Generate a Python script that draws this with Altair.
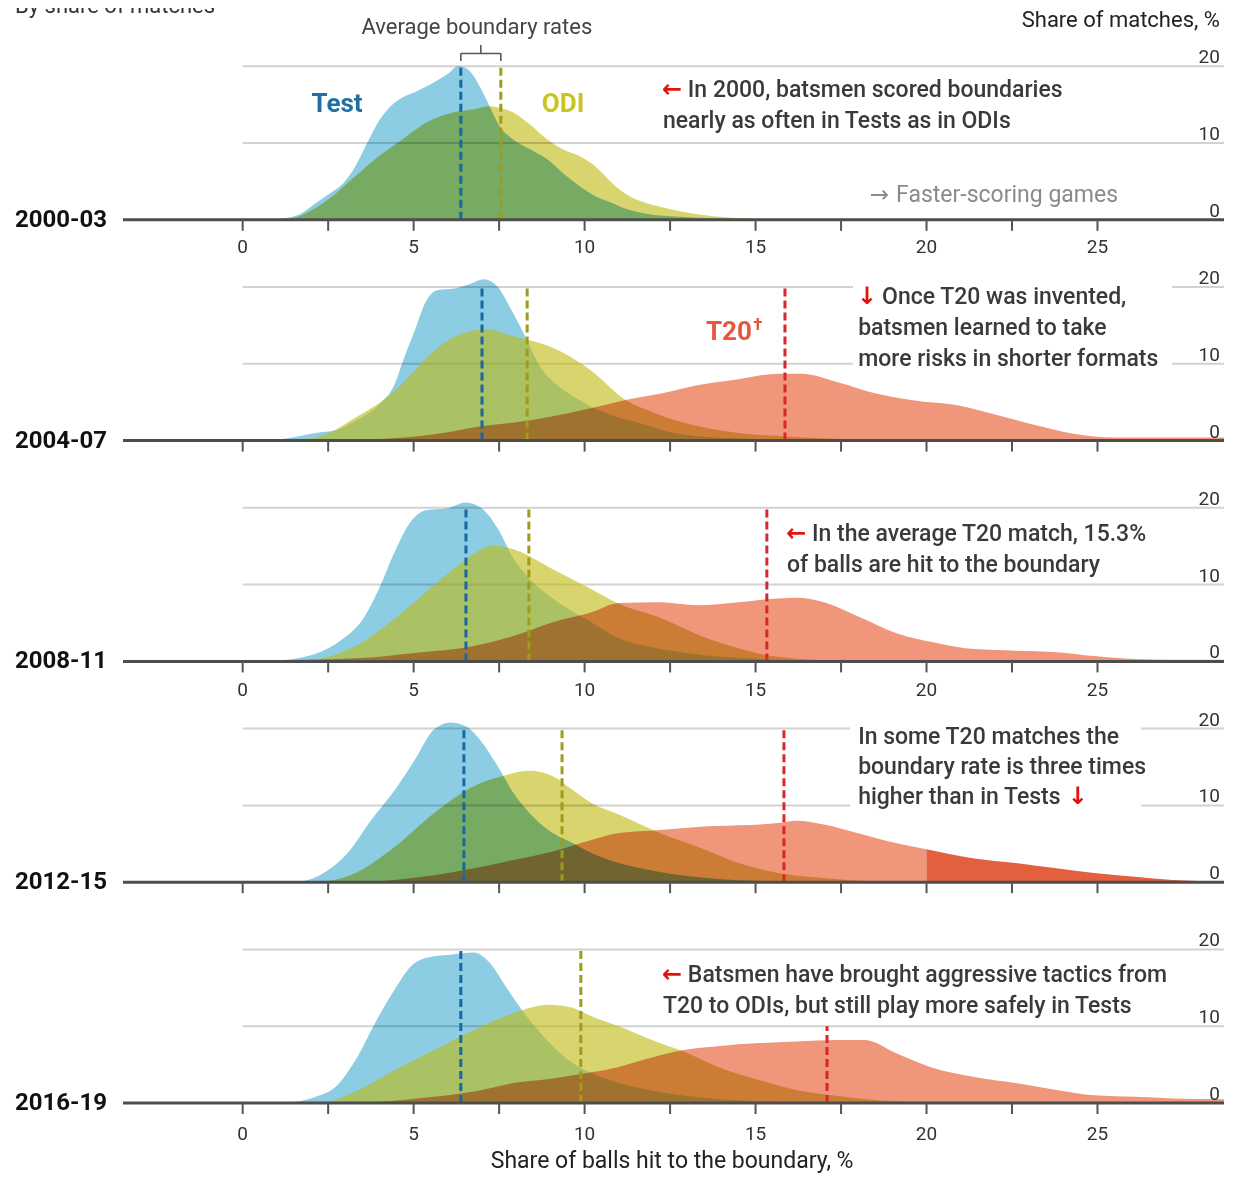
import altair as alt
import pandas as pd

FONT = "Roboto"
ARROW_FONT = "DejaVu Sans"

PERIODS = ["2000-03", "2004-07", "2008-11", "2012-15", "2016-19"]

# Share of matches (%) against share of balls hit to the boundary (%)
TEST = {
    "2000-03": [(0.5, 0), (1.2, 0.2), (1.7, 0.8), (2.14, 2.2), (2.6, 3.6), (2.95, 4.8), (3.3, 7.0), (3.64, 10.0),
                (4.0, 13.0), (4.33, 14.8), (4.7, 16.0), (5.03, 16.6), (5.6, 17.9), (6.0, 19.0), (6.3, 20.0),
                (6.55, 19.7), (6.76, 18.7), (7.0, 16.8), (7.22, 14.8), (7.51, 12.2), (7.9, 10.5), (8.4, 9.2),
                (8.9, 7.9), (9.36, 6.1), (9.85, 4.4), (10.3, 3.1), (10.8, 2.2), (11.3, 1.3), (11.8, 0.8),
                (12.8, 0.4), (13.8, 0.2), (15.0, 0.05), (16.0, 0)],
    "2004-07": [(0.8, 0), (1.45, 0.4), (2.14, 1.0), (2.72, 1.35), (3.3, 2.6), (3.99, 4.7), (4.45, 7.4),
                (4.69, 10.4), (5.03, 14.3), (5.38, 18.3), (5.72, 19.6), (6.18, 19.8), (6.65, 20.4), (7.05, 21.0),
                (7.46, 20.0), (7.92, 16.5), (8.27, 13.5), (8.7, 9.6), (9.2, 7.2), (9.65, 5.8), (10.2, 4.4),
                (11.0, 3.0), (11.6, 2.3), (12.6, 1.0), (13.5, 0.5), (14.5, 0.3), (16.0, 0.1), (17.5, 0)],
    "2008-11": [(0.5, 0), (0.98, 0.1), (2.14, 1.0), (2.95, 3.0), (3.53, 5.6), (3.99, 9.5), (4.45, 14.3),
                (4.92, 18.2), (5.38, 19.7), (5.95, 19.9), (6.53, 20.7), (7.0, 19.9), (7.46, 17.3), (7.92, 13.4),
                (8.38, 10.8), (9.07, 8.2), (9.65, 6.5), (10.2, 5.1), (11.0, 3.0), (12.0, 1.8), (13.0, 1.1),
                (14.0, 0.6), (15.0, 0.35), (16.0, 0.15), (17.5, 0)],
    "2012-15": [(1.0, 0), (1.68, 0.1), (2.37, 1.2), (3.07, 3.8), (3.76, 8.1), (4.45, 12.0), (5.03, 15.9),
                (5.6, 19.9), (6.07, 20.8), (6.53, 20.3), (7.0, 18.2), (7.46, 15.1), (7.92, 11.6), (8.5, 8.5),
                (9.07, 6.4), (9.65, 5.1), (10.2, 3.8), (11.0, 2.5), (12.0, 1.5), (13.0, 0.8), (14.0, 0.4),
                (15.0, 0.2), (16.5, 0)],
    "2016-19": [(0.8, 0), (1.45, 0.1), (2.14, 0.8), (2.72, 2.1), (3.3, 5.6), (3.87, 10.4), (4.45, 14.8),
                (4.92, 17.8), (5.38, 18.9), (6.07, 19.3), (6.76, 19.6), (7.22, 18.3), (7.69, 15.2), (8.15, 12.2),
                (8.61, 9.6), (9.07, 7.4), (9.65, 5.2), (10.2, 3.9), (11.0, 2.6), (12.0, 1.6), (13.0, 0.9),
                (14.0, 0.5), (15.0, 0.25), (16.5, 0.05), (18.0, 0)],
}

ODI = {
    "2000-03": [(0.8, 0), (1.45, 0.2), (2.0, 1.2), (2.49, 2.6), (3.3, 5.7), (3.99, 8.3), (4.68, 10.5),
                (5.38, 12.7), (6.18, 14.0), (6.76, 14.4), (7.2, 14.8), (7.51, 14.6), (7.9, 14.0), (8.4, 12.4),
                (8.9, 10.5), (9.36, 9.2), (9.85, 8.3), (10.3, 7.0), (10.8, 4.8), (11.3, 3.1), (11.8, 2.2),
                (12.3, 1.6), (12.8, 1.1), (13.7, 0.5), (14.7, 0.2), (15.7, 0.1), (17.0, 0)],
    "2004-07": [(1.0, 0), (2.14, 0.4), (3.3, 3.0), (4.45, 6.5), (5.03, 9.1), (5.6, 11.7), (6.18, 13.5),
                (7.1, 14.5), (7.92, 13.6), (9.07, 12.1), (10.17, 9.2), (11.2, 5.3), (12.0, 3.7), (12.6, 2.7),
                (13.5, 1.7), (14.5, 1.0), (16.0, 0.5), (17.5, 0.2), (19.0, 0.05), (20.0, 0)],
    "2008-11": [(0.8, 0), (2.14, 0.3), (3.3, 2.0), (4.45, 5.6), (5.6, 9.9), (6.41, 12.9), (7.34, 15.1),
                (7.92, 14.6), (9.07, 12.0), (10.2, 9.4), (11.0, 7.5), (12.2, 5.7), (13.3, 3.5), (14.5, 1.7),
                (15.1, 1.0), (16.2, 0.35), (17.5, 0.1), (19.0, 0)],
    "2012-15": [(1.5, 0), (2.37, 0.1), (3.3, 1.2), (4.45, 4.6), (5.6, 9.0), (6.76, 12.5), (7.57, 13.8),
                (8.38, 14.5), (9.07, 13.8), (9.65, 12.0), (10.2, 10.3), (11.0, 8.8), (12.2, 6.4), (13.3, 4.6),
                (14.5, 2.5), (15.65, 1.2), (16.8, 0.6), (18.0, 0.2), (19.5, 0)],
    "2016-19": [(1.5, 0), (2.37, 0.1), (3.3, 1.5), (4.45, 4.3), (5.6, 6.9), (6.76, 9.5), (7.92, 11.7),
                (8.95, 12.8), (9.65, 12.4), (10.2, 11.3), (11.0, 10.0), (12.2, 7.8), (12.9, 6.7), (13.9, 4.7),
                (15.1, 3.0), (16.2, 1.7), (17.4, 0.9), (18.5, 0.4), (20.0, 0.1), (21.0, 0)],
}

T20 = {
    "2004-07": [(2.5, 0), (4.0, 0.2), (5.0, 0.5), (6.0, 1.1), (7.0, 1.9), (8.0, 2.4), (9.0, 3.1), (10.17, 4.2),
                (11.2, 5.3), (12.2, 6.1), (13.3, 7.2), (14.5, 8.0), (15.65, 8.7), (16.35, 8.7), (17.4, 7.6),
                (18.55, 6.1), (19.7, 5.2), (20.9, 4.6), (22.0, 3.4), (23.2, 2.0), (24.3, 0.9), (25.5, 0.4),
                (27.2, 0.4), (28.7, 0.4)],
    "2008-11": [(0.0, 0.1), (3.3, 0.4), (5.03, 1.1), (6.76, 2.0), (7.92, 3.3), (9.07, 5.1), (10.2, 6.4),
                (11.0, 7.6), (12.2, 7.7), (13.3, 7.3), (14.5, 7.7), (15.65, 8.2), (16.2, 8.3), (17.0, 7.7),
                (17.97, 5.9), (19.1, 3.7), (20.3, 2.4), (21.4, 1.6), (22.6, 1.4), (23.8, 1.2), (24.9, 0.7),
                (26.1, 0.3), (27.2, 0.2), (28.7, 0.2)],
    "2012-15": [(3.0, 0), (4.45, 0.3), (5.6, 0.9), (6.76, 1.8), (7.92, 2.9), (9.07, 4.0), (10.2, 5.5),
                (11.0, 6.4), (12.2, 6.8), (13.3, 7.2), (14.5, 7.4), (15.65, 7.7), (16.2, 8.0), (17.0, 7.5),
                (17.97, 6.4), (19.1, 5.1), (20.0, 4.3), (21.4, 3.1), (22.6, 2.5), (23.8, 1.8), (24.9, 1.2),
                (26.1, 0.7), (27.2, 0.3), (28.3, 0.1), (28.7, 0)],
    "2016-19": [(3.0, 0), (4.45, 0.3), (5.6, 0.8), (6.76, 1.5), (7.92, 2.6), (9.07, 3.2), (10.2, 4.0),
                (11.0, 4.7), (11.7, 5.6), (12.9, 6.9), (13.9, 7.4), (15.1, 7.8), (16.2, 8.0), (17.4, 8.2),
                (18.2, 8.2), (19.1, 6.5), (20.1, 4.7), (21.4, 3.4), (22.6, 2.6), (23.8, 1.7), (24.9, 1.0),
                (26.1, 0.8), (27.2, 0.6), (28.7, 0.5)],
}

MEAN_TEST = [6.38, 7.00, 6.53, 6.47, 6.38]
MEAN_ODI = [7.55, 8.32, 8.37, 9.34, 9.89]
MEAN_T20 = [None, 15.86, 15.33, 15.83, 17.09]

X_TICKS = [0, 2.5, 5, 7.5, 10, 12.5, 15, 17.5, 20, 22.5, 25]
X_LABELS = [0, 5, 10, 15, 20, 25]
GRID = [10, 20]
Y_LABELS = [0, 10, 20]
X_TITLE = "Share of balls hit to the boundary, %"

# ---- layout / style ----
U = 7.68                     # px per percentage point (vertical)
ROW_GAP = 28.75              # vertical distance between panel baselines, in units
OFF = {p: (4 - i) * ROW_GAP for i, p in enumerate(PERIODS)}
X_MIN, X_MAX = -3.5, 28.7
Y_MAX = 138.41
HIGHLIGHT_PERIOD, HIGHLIGHT_FROM = "2012-15", 20
LABEL_GAP_PX = {"2000-03": 27.5, "2008-11": 29.0, "2016-19": 31.0}   # tick-label distance below baseline

C_TEST = "#8dcde3"
C_ODI_MULT = "#d8d56f"
C_ODI_NORM = "#beb90f"
C_T20 = "#f0967a"
C_T20_HI = "#e2603d"
C_TEXT = "#3a3a3a"
C_RED = "#e3120b"

XS = alt.Scale(domain=[X_MIN, X_MAX], nice=False, zero=False)
YS = alt.Scale(domain=[0, Y_MAX], nice=False, zero=False)


def X(f="x"):
    return alt.X(f"{f}:Q", scale=XS, axis=None)


def Y(f="y"):
    return alt.Y(f"{f}:Q", scale=YS, axis=None)


# ---- area data ----
area_rows = []
for p in PERIODS:
    o = OFF[p]
    for x, v in TEST.get(p, []):
        area_rows.append(dict(fmt="Test", key=p, x=x, y=o + v, y0=o, col=C_TEST, mode="mult"))
    for x, v in ODI.get(p, []):
        mode = "mult" if p in ("2000-03", "2012-15") else "norm"
        area_rows.append(dict(fmt="ODI", key=p, x=x, y=o + v, y0=o,
                              col=C_ODI_MULT if mode == "mult" else C_ODI_NORM, mode=mode))
    for x, v in T20.get(p, []):
        if p == HIGHLIGHT_PERIOD:
            if x <= HIGHLIGHT_FROM:
                area_rows.append(dict(fmt="T20", key=p + "a", x=x, y=o + v, y0=o, col=C_T20, mode="mult"))
            if x >= HIGHLIGHT_FROM:
                area_rows.append(dict(fmt="T20", key=p + "b", x=x, y=o + v, y0=o, col=C_T20_HI, mode="mult"))
        else:
            area_rows.append(dict(fmt="T20", key=p, x=x, y=o + v, y0=o, col=C_T20, mode="mult"))
areas = pd.DataFrame(area_rows)


def area_layer(df, **kw):
    return alt.Chart(df).mark_area(interpolate="monotone", **kw).encode(
        x=X(), y=Y(), y2=alt.Y2("y0:Q"),
        color=alt.Color("col:N", scale=None), detail="key:N")


# ---- grid ----
grid = pd.DataFrame([dict(x=0, x2=X_MAX, y=OFF[p] + g) for p in PERIODS for g in GRID])
grid_layer = alt.Chart(grid).mark_rule(color="#d2d2d2", strokeWidth=2).encode(
    x=X(), x2=alt.X2("x2:Q"), y=Y())

# white boxes behind annotations
boxes = pd.DataFrame([
    dict(x=17.85, x2=27.18, y=OFF["2004-07"] + 8.8, y2=OFF["2004-07"] + 21.0),
    dict(x=17.76, x2=26.27, y=OFF["2012-15"] + 8.8, y2=OFF["2012-15"] + 21.0),
])
box_layer = alt.Chart(boxes).mark_rect(color="white").encode(
    x=X(), x2=alt.X2("x2:Q"), y=Y(), y2=alt.Y2("y2:Q"))

test_layer = area_layer(areas[areas.fmt == "Test"], blend="multiply")
odi_mult_layer = area_layer(areas[(areas.fmt == "ODI") & (areas["mode"] == "mult")], blend="multiply")
odi_norm_layer = area_layer(areas[(areas.fmt == "ODI") & (areas["mode"] == "norm")], opacity=0.6)
t20_layer = area_layer(areas[areas.fmt == "T20"], blend="multiply")

# ---- mean lines ----
mean_rows = []
for i, p in enumerate(PERIODS):
    o = OFF[p]
    mean_rows.append(dict(x=MEAN_TEST[i], y=o, y2=o + 20, col="#1767a3"))
    mean_rows.append(dict(x=MEAN_ODI[i], y=o, y2=o + 20, col="#9f9b1b"))
    if MEAN_T20[i] is not None:
        top = 10 if p == "2016-19" else 20
        mean_rows.append(dict(x=MEAN_T20[i], y=o, y2=o + top, col="#d9262b"))
mean_layer = alt.Chart(pd.DataFrame(mean_rows)).mark_rule(strokeWidth=3, strokeDash=[8, 4]).encode(
    x=X(), y=Y(), y2=alt.Y2("y2:Q"), color=alt.Color("col:N", scale=None))

# ---- baselines and ticks ----
base = pd.DataFrame([dict(x=X_MIN, x2=X_MAX, y=OFF[p]) for p in PERIODS])
base_layer = alt.Chart(base).mark_rule(color="#4d4d4d", strokeWidth=3).encode(
    x=X(), x2=alt.X2("x2:Q"), y=Y())

ticks = pd.DataFrame([dict(x=t, y=OFF[p], y2=OFF[p] - 11 / U) for p in PERIODS for t in X_TICKS])
tick_layer = alt.Chart(ticks).mark_rule(color="#555555", strokeWidth=2).encode(
    x=X(), y=Y(), y2=alt.Y2("y2:Q"))

# bracket for "Average boundary rates"
o1 = OFF["2000-03"]
mid = (MEAN_TEST[0] + MEAN_ODI[0]) / 2
bracket = pd.DataFrame([
    dict(x=MEAN_TEST[0], x2=MEAN_ODI[0], y=o1 + 21.65, y2=o1 + 21.65),
    dict(x=MEAN_TEST[0], x2=MEAN_TEST[0], y=o1 + 20.68, y2=o1 + 21.65),
    dict(x=MEAN_ODI[0], x2=MEAN_ODI[0], y=o1 + 20.68, y2=o1 + 21.65),
    dict(x=mid, x2=mid, y=o1 + 21.65, y2=o1 + 22.76),
])
bracket_layer = alt.Chart(bracket).mark_rule(color="#555555", strokeWidth=1.6).encode(
    x=X(), x2=alt.X2("x2:Q"), y=Y(), y2=alt.Y2("y2:Q"))


# ---- texts ----
def text_layer(rows, size, color=None, weight="normal", align="left", baseline="middle", font=FONT):
    df = pd.DataFrame(rows)
    kw = dict(font=font, fontSize=size, fontWeight=weight, align=align, baseline=baseline)
    enc = dict(x=X(), y=Y(), text=alt.Text("text:N"))
    if color is None:
        enc["color"] = alt.Color("col:N", scale=None)
    else:
        kw["color"] = color
    return alt.Chart(df).mark_text(**kw).encode(**enc)


tick_labels = [dict(x=t, y=OFF[p] - gap / U, text=str(t)) for p, gap in LABEL_GAP_PX.items() for t in X_LABELS]
right_labels = [dict(x=28.58, y=OFF[p] + lv + 3 / U, text=str(lv)) for p in PERIODS for lv in Y_LABELS]
row_labels = [dict(x=-6.66, y=OFF[p], text=p) for p in PERIODS]

ANNOT = [
    ("2000-03", 13.02, 16.9, "In 2000, batsmen scored boundaries"),
    ("2000-03", 12.29, 12.86, "nearly as often in Tests as in ODIs"),
    ("2004-07", 18.7, 18.7, "Once T20 was invented,"),
    ("2004-07", 18.0, 14.65, "batsmen learned to take"),
    ("2004-07", 18.0, 10.6, "more risks in shorter formats"),
    ("2008-11", 16.65, 16.59, "In the average T20 match, 15.3%"),
    ("2008-11", 15.92, 12.55, "of balls are hit to the boundary"),
    ("2012-15", 18.0, 18.9, "In some T20 matches the"),
    ("2012-15", 18.0, 15.0, "boundary rate is three times"),
    ("2012-15", 18.0, 11.09, "higher than in Tests"),
    ("2016-19", 13.02, 16.67, "Batsmen have brought aggressive tactics from"),
    ("2016-19", 12.29, 12.63, "T20 to ODIs, but still play more safely in Tests"),
]
ARROWS = [
    ("2000-03", 12.56, 16.9, "←"),
    ("2004-07", 18.25, 18.7, "↓"),
    ("2008-11", 16.19, 16.59, "←"),
    ("2012-15", 24.42, 11.09, "↓"),
    ("2016-19", 12.56, 16.67, "←"),
]
LABELS = [
    ("2000-03", 2.76, 15.08, "Test", "#1d6fa5"),
    ("2000-03", 9.37, 15.08, "ODI", "#c9c41f"),
    ("2004-07", 14.22, 14.14, "T20", "#e9563b"),
]

annot_layer = text_layer([dict(x=x, y=OFF[p] + v, text=t) for p, x, v, t in ANNOT], 23, C_TEXT, weight=500)
arrow_layer = text_layer([dict(x=x, y=OFF[p] + v, text=t) for p, x, v, t in ARROWS], 24, C_RED,
                         weight="bold", align="center", font=ARROW_FONT)
faster_arrow = text_layer([dict(x=18.62, y=o1 + 3.23, text="→")], 23, "#8a8a8a", align="center", font=ARROW_FONT)
faster_layer = text_layer([dict(x=19.11, y=o1 + 3.23, text="Faster-scoring games")], 23, "#8a8a8a")
label_layer = text_layer([dict(x=x, y=OFF[p] + v, text=t, col=c) for p, x, v, t, c in LABELS], 26,
                         weight="bold", align="center")
dagger_layer = text_layer([dict(x=14.93, y=OFF["2004-07"] + 15.05, text="†")], 17, "#e9563b", weight="bold")
head_right = text_layer([dict(x=28.58, y=o1 + 25.95, text="Share of matches, %")], 22, "#222222", align="right")
head_avg = text_layer([dict(x=6.85, y=o1 + 25.1, text="Average boundary rates")], 22, "#444444", align="center")
head_sub = text_layer([dict(x=-6.66, y=o1 + 27.9, text="By share of matches")], 22, "#333333")
tick_label_layer = text_layer(tick_labels, 19, "#333333", align="center")
right_label_layer = text_layer(right_labels, 19, "#333333", align="right", baseline="alphabetic")
row_label_layer = text_layer(row_labels, 24, "#111111", weight="bold")
x_title_layer = text_layer([dict(x=12.56, y=OFF["2016-19"] - 7.55, text=X_TITLE)], 23, "#222222", align="center")

chart = alt.layer(
    grid_layer, box_layer, test_layer, odi_mult_layer, odi_norm_layer, t20_layer,
    mean_layer, base_layer, tick_layer, bracket_layer,
    annot_layer, arrow_layer, faster_arrow, faster_layer, label_layer, dagger_layer,
    head_right, head_avg, head_sub, tick_label_layer, right_label_layer, row_label_layer, x_title_layer,
).properties(
    width=1101, height=1063,
    padding={"left": 115, "top": 32, "right": 8, "bottom": 71},
    autosize=alt.AutoSizeParams(type="none"),
).configure(background="white").configure_view(stroke=None)

chart.save("out.html", embed_options={"renderer": "svg", "actions": False})
